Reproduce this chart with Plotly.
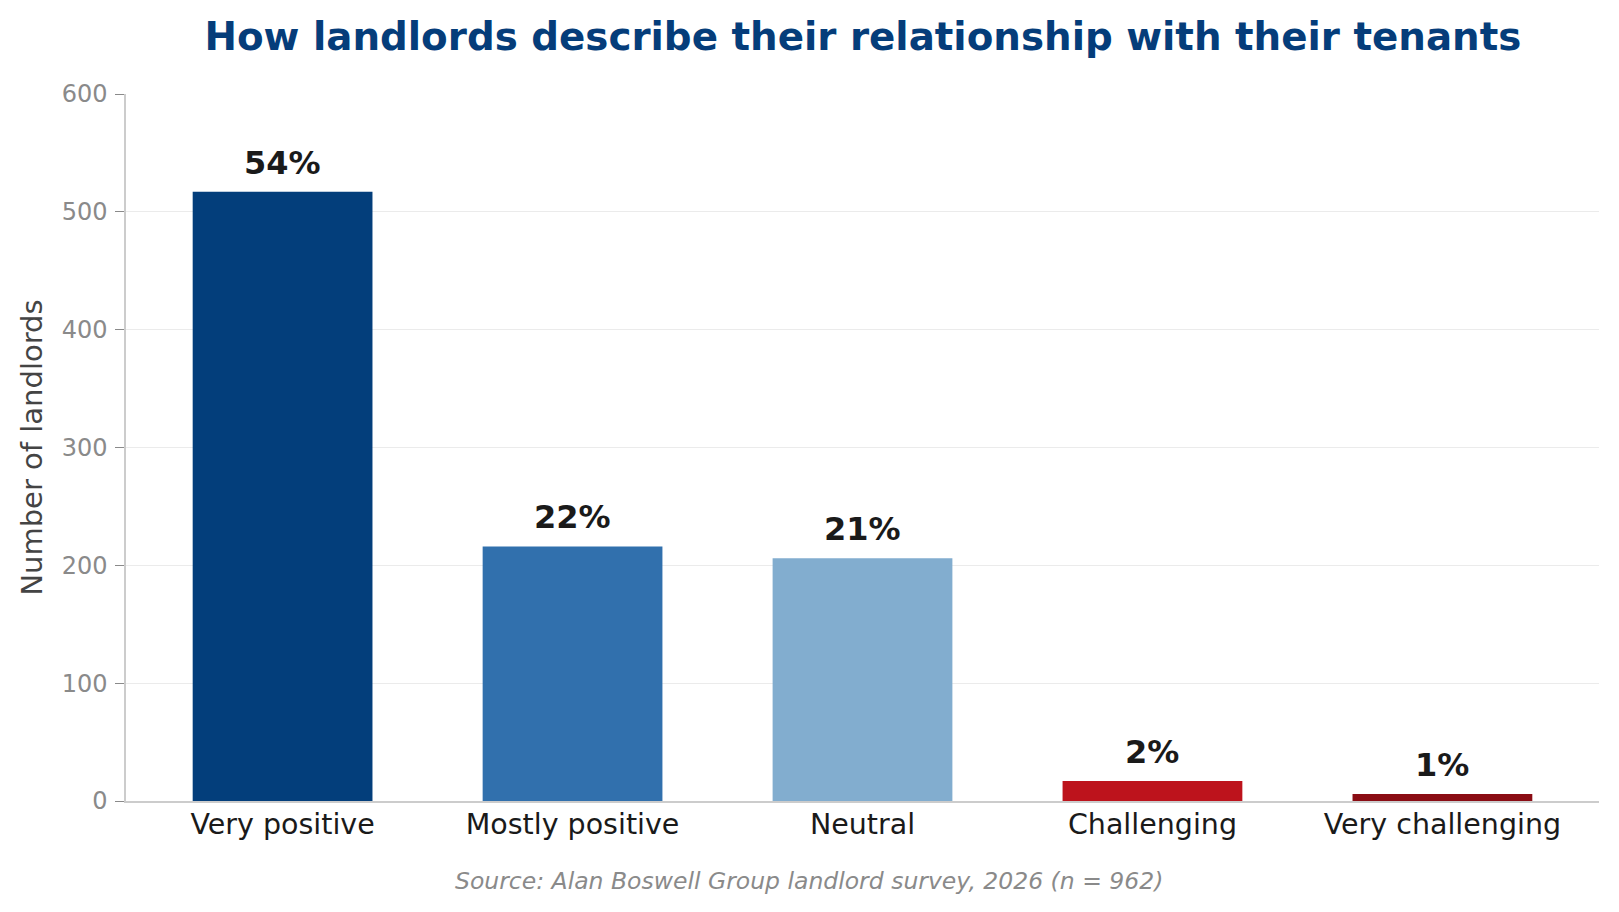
import plotly.graph_objects as go

categories = ["Very positive", "Mostly positive", "Neutral", "Challenging", "Very challenging"]
counts = [517, 216, 206, 17, 6]
pct_labels = ["54%", "22%", "21%", "2%", "1%"]
colors = ["#033e7b", "#3170ad", "#82adcf", "#bd131c", "#8a0d14"]
y_ticks = [0, 100, 200, 300, 400, 500, 600]

FONT = "DejaVu Sans"

fig = go.Figure()
fig.add_trace(go.Bar(
    x=list(range(len(categories))), y=counts,
    marker=dict(color=colors, line=dict(width=0)),
    width=0.62, hoverinfo="skip", showlegend=False,
))

for i, (v, t) in enumerate(zip(counts, pct_labels)):
    fig.add_annotation(x=i, y=v, text=f"<b>{t}</b>", showarrow=False,
                       yanchor="bottom", yshift=8,
                       font=dict(family=FONT, size=32, color="#1a1a1a"))

fig.add_annotation(text="<i>Source: Alan Boswell Group landlord survey, 2026 (n = 962)</i>",
                   xref="paper", yref="paper", x=0.464, y=-0.113, xanchor="center", yanchor="middle",
                   showarrow=False, font=dict(family=FONT, size=23.5, color="#8a8a8a"))

fig.update_layout(
    width=1619, height=912,
    paper_bgcolor="white", plot_bgcolor="white",
    margin=dict(l=126, r=20, t=94, b=111),
    title=dict(text="<b>How landlords describe their relationship with their tenants</b>",
               x=0.533, xanchor="center", y=0.960, yanchor="middle",
               font=dict(family=FONT, size=38.8, color="#053d7a")),
    font=dict(family=FONT),
    xaxis=dict(
        range=[-0.54, 4.54], tickmode="array", tickvals=list(range(len(categories))),
        ticktext=categories, tickfont=dict(family=FONT, size=28.5, color="#1a1a1a"),
        showgrid=False, showline=True, linecolor="#cccccc", linewidth=1.5,
        ticks="", zeroline=False, ticklabelstandoff=-3,
    ),
    yaxis=dict(
        range=[0, 600], tickmode="array", tickvals=y_ticks,
        tickfont=dict(family=FONT, size=24, color="#8a8a8a"),
        showgrid=True, gridcolor="#ebebeb", gridwidth=1,
        showline=True, linecolor="#cccccc", linewidth=1.5,
        ticks="outside", ticklen=9, tickcolor="#8a8a8a", zeroline=False,
        ticklabelstandoff=3,
        title=dict(text="Number of landlords", font=dict(family=FONT, size=29, color="#444444"), standoff=10),
    ),
)

fig.write_html("out.html")
